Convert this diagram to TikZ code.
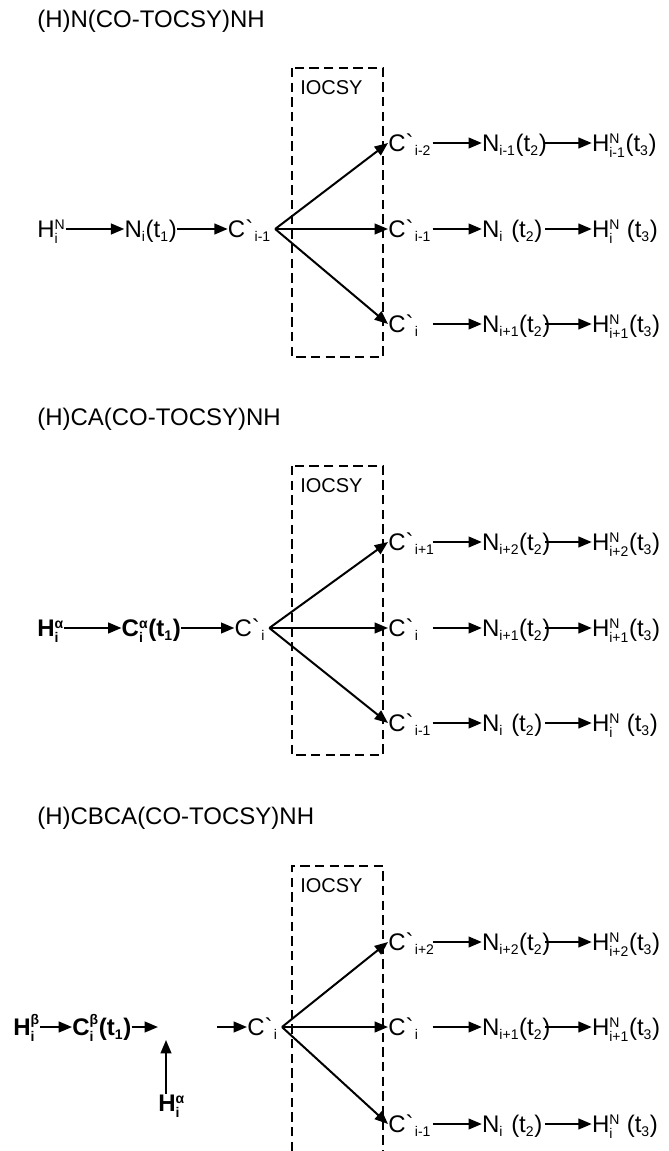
\documentclass[tikz,border=0pt]{standalone}
\usepackage{amsmath}
\usepackage{fontspec}
\setmainfont{Liberation Sans}
\usetikzlibrary{arrows.meta, positioning}

\DeclareMathSizes{18}{18}{10.5}{8}
\newcommand{\subx}[1]{$_{\text{#1}}$}
\newcommand{\hilo}[2]{$^{\text{#1}}_{\text{#2}}$}
\newcommand{\Cp}{C\textasciigrave}

\begin{document}
\begin{tikzpicture}[
    x=0.75pt, y=-0.75pt,
    lbl/.style={
      font=\fontsize{18}{21}\selectfont,
      inner sep=0pt,
      text height=13pt,
      text depth=0pt,
      anchor=west,
    },
    bl/.style={lbl, font=\fontsize{18}{21}\selectfont\bfseries},
    cp/.style={lbl, text width=33pt, align=left},
    nn/.style={lbl, text width=47pt, align=left},
    ttl/.style={font=\fontsize{18}{21}\selectfont, inner sep=0pt, anchor=west},
    tag/.style={font=\fontsize{15}{18}\selectfont, inner sep=0pt, anchor=west},
    arr/.style={-{Triangle[length=10pt, width=8pt]}, line width=1.5pt},
    frame/.style={line width=1.5pt, dash pattern=on 7pt off 4pt},
  ]
    \useasboundingbox (0,0) rectangle (668,1151);

    % (H)N(CO-TOCSY)NH
    \node[ttl] (t1) at (37,21) {(H)N(CO-TOCSY)NH};
    \draw[frame] (292,68) rectangle (383,357);
    \node[tag] (k1) at (300,88) {IOCSY};

    \node[lbl] (hn1) at (37,229) {H\hilo{N}{i}};
    \node[lbl, right=44pt of hn1] (n1) {N\subx{i}(t\subx{1})};
    \node[lbl, right=38pt of n1] (c1) {\Cp\kern1pt\subx{i-1}};
    \coordinate[right=3pt of c1] (p1);

    \node[cp] (ca1) at (388,143) {\Cp\kern1pt\subx{i-2}};
    \node[nn, right=37pt of ca1] (na1) {N\subx{i-1}(t\subx{2})};
    \node[lbl, right=35pt of na1] (ha1) {H\hilo{N}{i-1}(t\subx{3})};
    \node[cp] (cb1) at (388,229) {\Cp\kern1pt\subx{i-1}};
    \node[nn, right=37pt of cb1] (nb1) {N\subx{i}\ (t\subx{2})};
    \node[lbl, right=35pt of nb1] (hb1) {H\hilo{N}{i}\ (t\subx{3})};
    \node[cp] (cc1) at (388,324) {\Cp\kern1pt\subx{i}};
    \node[nn, right=37pt of cc1] (nc1) {N\subx{i+1}(t\subx{2})};
    \node[lbl, right=35pt of nc1] (hc1) {H\hilo{N}{i+1}(t\subx{3})};

    \draw[arr] (hn1) -- (n1);
    \draw[arr] (n1) -- (c1);
    \draw[arr] (p1) -- (ca1.west);
    \draw[arr] (p1) -- (cb1.west);
    \draw[arr] (p1) -- (cc1.west);
    \draw[arr] (ca1) -- (na1);
    \draw[arr] (na1) -- (ha1);
    \draw[arr] (cb1) -- (nb1);
    \draw[arr] (nb1) -- (hb1);
    \draw[arr] (cc1) -- (nc1);
    \draw[arr] (nc1) -- (hc1);

    % (H)CA(CO-TOCSY)NH
    \node[ttl] (t2) at (37,419) {(H)CA(CO-TOCSY)NH};
    \draw[frame] (292,466) rectangle (383,755);
    \node[tag] (k2) at (300,486) {IOCSY};

    \node[bl] (hn2) at (37,628) {H\hilo{α}{i}};
    \node[bl, right=43pt of hn2] (n2) {C\hilo{α}{i}(t\subx{1})};
    \node[lbl, right=40pt of n2] (c2) {\Cp\kern1pt\subx{i}};
    \coordinate[right=3pt of c2] (p2);

    \node[cp] (ca2) at (388,542) {\Cp\kern1pt\subx{i+1}};
    \node[nn, right=37pt of ca2] (na2) {N\subx{i+2}(t\subx{2})};
    \node[lbl, right=35pt of na2] (ha2) {H\hilo{N}{i+2}(t\subx{3})};
    \node[cp] (cb2) at (388,628) {\Cp\kern1pt\subx{i}};
    \node[nn, right=37pt of cb2] (nb2) {N\subx{i+1}(t\subx{2})};
    \node[lbl, right=35pt of nb2] (hb2) {H\hilo{N}{i+1}(t\subx{3})};
    \node[cp] (cc2) at (388,723) {\Cp\kern1pt\subx{i-1}};
    \node[nn, right=37pt of cc2] (nc2) {N\subx{i}\ (t\subx{2})};
    \node[lbl, right=35pt of nc2] (hc2) {H\hilo{N}{i}\ (t\subx{3})};

    \draw[arr] (hn2) -- (n2);
    \draw[arr] (n2) -- (c2);
    \draw[arr] (p2) -- (ca2.west);
    \draw[arr] (p2) -- (cb2.west);
    \draw[arr] (p2) -- (cc2.west);
    \draw[arr] (ca2) -- (na2);
    \draw[arr] (na2) -- (ha2);
    \draw[arr] (cb2) -- (nb2);
    \draw[arr] (nb2) -- (hb2);
    \draw[arr] (cc2) -- (nc2);
    \draw[arr] (nc2) -- (hc2);

    % (H)CBCA(CO-TOCSY)NH
    \node[ttl] (t3) at (37,818) {(H)CBCA(CO-TOCSY)NH};
    \draw[frame] (292,1151) -- (292,866) -- (383,866) -- (383,1151);
    \node[tag] (k3) at (300,886) {IOCSY};

    \node[bl] (hn3) at (13,1027) {H\hilo{β}{i}};
    \node[bl, right=24pt of hn3] (n3) {C\hilo{β}{i}(t\subx{1})};
    \coordinate (e3) at (158,1027);
    \node[bl] (hx3) at (158,1103) {H\hilo{α}{i}};
    \coordinate (q3) at (166,1040);
    \coordinate (s3) at (217,1027);
    \node[lbl] (c3) at (247,1027) {\Cp\kern1pt\subx{i}};
    \coordinate[right=3pt of c3] (p3);

    \node[cp] (ca3) at (388,942) {\Cp\kern1pt\subx{i+2}};
    \node[nn, right=37pt of ca3] (na3) {N\subx{i+2}(t\subx{2})};
    \node[lbl, right=35pt of na3] (ha3) {H\hilo{N}{i+2}(t\subx{3})};
    \node[cp] (cb3) at (388,1027) {\Cp\kern1pt\subx{i}};
    \node[nn, right=37pt of cb3] (nb3) {N\subx{i+1}(t\subx{2})};
    \node[lbl, right=35pt of nb3] (hb3) {H\hilo{N}{i+1}(t\subx{3})};
    \node[cp] (cc3) at (388,1124) {\Cp\kern1pt\subx{i-1}};
    \node[nn, right=37pt of cc3] (nc3) {N\subx{i}\ (t\subx{2})};
    \node[lbl, right=35pt of nc3] (hc3) {H\hilo{N}{i}\ (t\subx{3})};

    \draw[arr] (hn3) -- (n3);
    \draw[arr] (n3) -- (e3);
    \draw[arr] (hx3.north -| q3) -- (q3);
    \draw[arr] (s3) -- (c3);
    \draw[arr] (p3) -- (ca3.west);
    \draw[arr] (p3) -- (cb3.west);
    \draw[arr] (p3) -- (cc3.west);
    \draw[arr] (ca3) -- (na3);
    \draw[arr] (na3) -- (ha3);
    \draw[arr] (cb3) -- (nb3);
    \draw[arr] (nb3) -- (hb3);
    \draw[arr] (cc3) -- (nc3);
    \draw[arr] (nc3) -- (hc3);
\end{tikzpicture}
\end{document}
